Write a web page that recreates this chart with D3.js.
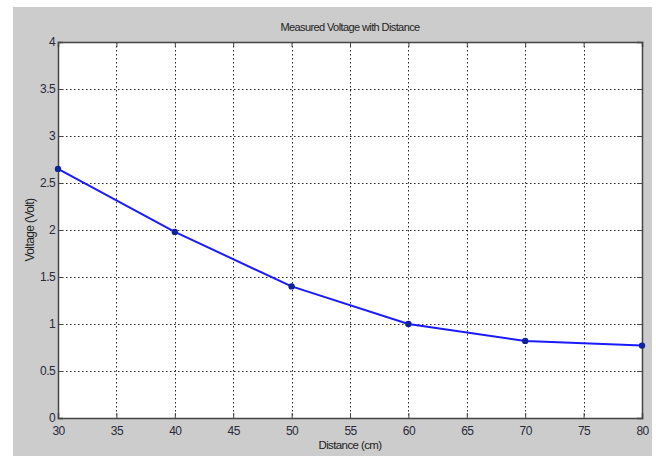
<!DOCTYPE html>
<html lang="en">
<head>
  <meta charset="UTF-8">
  <title>Measured Voltage with Distance</title>
  <script src="https://d3js.org/d3.v7.min.js"></script>
  <style>
    body {
      margin: 0;
      padding: 0;
      background: #fff;
    }
    svg {
      display: block;
      font-family: "Liberation Sans Narrow", "Liberation Sans", Arial, sans-serif;
    }
    svg text {
      letter-spacing: -0.6px;
    }
  </style>
</head>
<body>
  <div id="chart"></div>

  <script>
    // Measured data
    const distance = [30, 40, 50, 60, 70, 80];
    const voltage = [2.65, 1.98, 1.40, 1.00, 0.82, 0.77];

    const xTicks = [30, 35, 40, 45, 50, 55, 60, 65, 70, 75, 80];
    const yTicks = [0, 0.5, 1, 1.5, 2, 2.5, 3, 3.5, 4];

    const width = 656;
    const height = 456;
    const margin = { top: 42, right: 14, bottom: 38, left: 58 };

    const svg = d3.create("svg")
      .attr("width", width)
      .attr("height", height);

    // grey figure background
    svg.append("rect")
      .attr("x", 13)
      .attr("y", 7)
      .attr("width", 639)
      .attr("height", height - 7)
      .attr("fill", "#cccccc");

    const x = d3.scaleLinear()
      .domain([30, 80])
      .range([margin.left, width - margin.right]);

    const y = d3.scaleLinear()
      .domain([0, 4])
      .range([height - margin.bottom, margin.top]);

    const x0 = x.range()[0], x1 = x.range()[1];
    const y0 = y.range()[0], y1 = y.range()[1];

    // plot area
    svg.append("rect")
      .attr("x", x0)
      .attr("y", y1)
      .attr("width", x1 - x0)
      .attr("height", y0 - y1)
      .attr("fill", "white");

    // dotted grid
    const grid = svg.append("g")
      .attr("stroke", "#222")
      .attr("stroke-width", 1)
      .attr("stroke-dasharray", "1.5,2.5");

    grid.selectAll(".gx")
      .data(xTicks.slice(1, -1))
      .join("line")
      .attr("x1", d => Math.round(x(d)) + 0.5)
      .attr("x2", d => Math.round(x(d)) + 0.5)
      .attr("y1", y1)
      .attr("y2", y0);

    grid.selectAll(".gy")
      .data(yTicks.slice(1, -1))
      .join("line")
      .attr("x1", x0)
      .attr("x2", x1)
      .attr("y1", d => Math.round(y(d)) + 0.5)
      .attr("y2", d => Math.round(y(d)) + 0.5);

    // axes (ticks point inward, box on all sides)
    const tickLen = 5;
    const fmt = d3.format("~g");
    const xAxis = svg.append("g")
      .attr("transform", `translate(0,${y0})`)
      .call(d3.axisBottom(x).tickValues(xTicks).tickSize(-tickLen).tickPadding(8).tickFormat(fmt));
    const xAxisTop = svg.append("g")
      .attr("transform", `translate(0,${y1})`)
      .call(d3.axisTop(x).tickValues(xTicks).tickSize(-tickLen).tickFormat(""));
    const yAxis = svg.append("g")
      .attr("transform", `translate(${x0},0)`)
      .call(d3.axisLeft(y).tickValues(yTicks).tickSize(-tickLen).tickPadding(3).tickFormat(fmt));
    const yAxisRight = svg.append("g")
      .attr("transform", `translate(${x1},0)`)
      .call(d3.axisRight(y).tickValues(yTicks).tickSize(-tickLen).tickFormat(""));

    [xAxis, xAxisTop, yAxis, yAxisRight].forEach(g => {
      g.select(".domain").attr("stroke", "#444").attr("stroke-width", 1.5);
      g.selectAll(".tick line").attr("stroke", "#444");
      g.selectAll("text")
        .attr("fill", "#2a2a3a")
        .style("font-size", "12px");
    });

    // line
    svg.append("path")
      .datum(distance.map((d, i) => [d, voltage[i]]))
      .attr("fill", "none")
      .attr("stroke", "#1a1aff")
      .attr("stroke-width", 2)
      .attr("stroke-linejoin", "round")
      .attr("d", d3.line().x(d => x(d[0])).y(d => y(d[1])));

    // markers
    svg.append("g")
      .selectAll("circle")
      .data(distance.map((d, i) => [d, voltage[i]]))
      .join("circle")
      .attr("cx", d => x(d[0]))
      .attr("cy", d => y(d[1]))
      .attr("r", 3.2)
      .attr("fill", "#10249a");

    // title and labels
    svg.append("text")
      .attr("x", (x0 + x1) / 2)
      .attr("y", 31)
      .attr("text-anchor", "middle")
      .attr("fill", "#222")
      .style("font-size", "11px")
      .text("Measured Voltage with Distance");

    svg.append("text")
      .attr("x", (x0 + x1) / 2)
      .attr("y", 449)
      .attr("text-anchor", "middle")
      .attr("fill", "#222")
      .style("font-size", "11.5px")
      .text("Distance (cm)");

    svg.append("text")
      .attr("transform", `translate(34,${(y0 + y1) / 2}) rotate(-90)`)
      .attr("text-anchor", "middle")
      .attr("fill", "#222")
      .style("font-size", "12px")
      .text("Voltage (Volt)");

    document.getElementById("chart").appendChild(svg.node());
  </script>
</body>
</html>
